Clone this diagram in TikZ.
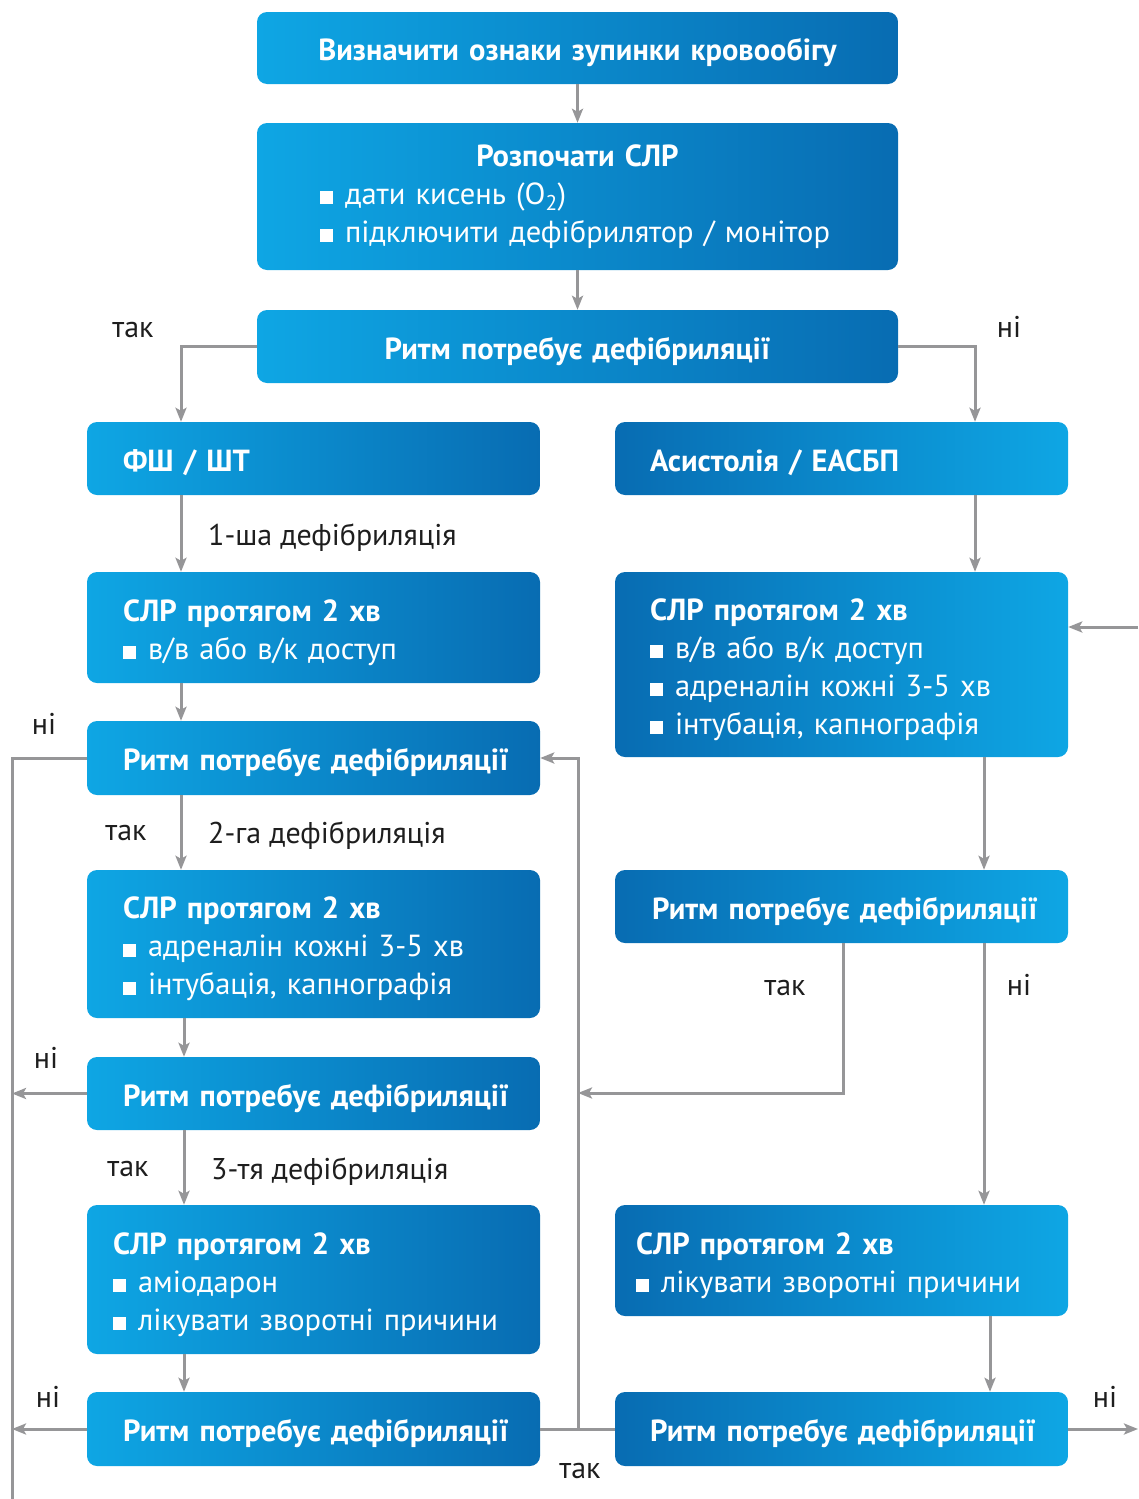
\documentclass[tikz,border=0pt]{standalone}
\usepackage{fontspec}
\setmainfont{PT Sans}
\usetikzlibrary{arrows.meta}
\definecolor{cL}{RGB}{14,166,228}
\definecolor{cD}{RGB}{8,108,178}
\definecolor{cA}{RGB}{150,150,152}
\definecolor{cT}{RGB}{30,30,30}
\newcommand\sq{\rule{13pt}{13pt}\hspace{12pt}}
\newcommand\fst{\rule{0pt}{32pt}}
\newcommand\lst{\rule[-7pt]{0pt}{7pt}}
\newcommand\one[1]{\makebox[\linewidth][l]{\bfseries #1}}
\newcommand\ctr[1]{\makebox[\linewidth][c]{\bfseries #1}}
\tikzset{
  boxbase/.style={rounded corners=10pt, draw=none, text=white, align=left,
    font=\fontsize{30.5}{38}\selectfont, inner ysep=0pt},
  single/.style={text height=32pt, text depth=7pt},
  lbox/.style={boxbase, left color=cL, right color=cD, minimum width=453, text width=381, inner xsep=36},
  rbox/.style={boxbase, left color=cD, right color=cL, minimum width=453, text width=383, inner xsep=35},
  tbox/.style={boxbase, left color=cL, right color=cD, minimum width=641, text width=515, inner xsep=63},
  conn/.style={draw=cA, line width=3pt},
  arr/.style={conn, -{Stealth[length=14pt,width=11pt,inset=3pt]}},
  lbl/.style={text=cT, font=\fontsize{30}{36}\selectfont, inner sep=0pt}
}
\begin{document}
\begin{tikzpicture}[x=1pt,y=-1pt]
\useasboundingbox (0,0) rectangle (1138,1499);
% top column
\node[tbox, single, minimum height=72] (B1) at (577.5,48) {\ctr{Визначити ознаки зупинки кровообігу}};
\node[tbox, minimum height=147] (B2) at (577.5,196.5) {\rule{0pt}{22pt}\ctr{Розпочати СЛР}\\ \mbox{\sq дати кисень (O\textsubscript{2})}\\ \mbox{\sq підключити дефібрилятор / монітор}\lst};
\node[tbox, single, minimum height=73] (B3) at (577.5,346.5) {\ctr{Ритм потребує дефібриляції}};
% left column
\node[lbox, single, minimum height=73] (L0) at (313.5,458.5) {\one{ФШ / ШТ}};
\node[lbox, minimum height=111] (L1) at (313.5,627.5) {\fst\textbf{СЛР протягом 2 хв}\\ \sq в/в або в/к доступ\lst};
\node[lbox, single, minimum height=74] (L2) at (313.5,758) {\one{Ритм потребує дефібриляції}};
\node[lbox, minimum height=148] (L3) at (313.5,944) {\fst\textbf{СЛР протягом 2 хв}\\ \sq адреналін кожні 3-5 хв\\ \sq інтубація, капнографія\lst};
\node[lbox, single, minimum height=73] (L4) at (313.5,1093.5) {\one{Ритм потребує дефібриляції}};
\node[lbox, minimum height=149, inner xsep=26, text width=401] (L5) at (313.5,1279.5) {\fst\textbf{СЛР протягом 2 хв}\\ \sq аміодарон\\ \sq лікувати зворотні причини\lst};
\node[lbox, single, minimum height=74] (L6) at (313.5,1429) {\one{Ритм потребує дефібриляції}};
% right column
\node[rbox, single, minimum height=73] (R0) at (841.5,458.5) {\one{Асистолія / ЕАСБП}};
\node[rbox, minimum height=185] (R1) at (841.5,664.5) {\fst\textbf{СЛР протягом 2 хв}\\ \sq в/в або в/к доступ\\ \sq адреналін кожні 3-5 хв\\ \sq інтубація, капнографія\lst};
\node[rbox, single, minimum height=73, inner xsep=37, text width=379] (R2) at (841.5,906.5) {\one{Ритм потребує дефібриляції}};
\node[rbox, minimum height=111, inner xsep=21, text width=411] (R3) at (841.5,1260.5) {\fst\textbf{СЛР протягом 2 хв}\\ \sq лікувати зворотні причини\lst};
\node[rbox, single, minimum height=74] (R4) at (841.5,1429) {\one{Ритм потребує дефібриляції}};
% coordinates for free ends / corners
\coordinate (jT) at (578,758);
\coordinate (jB) at (578,1429);
\coordinate (lT) at (12,758);
\coordinate (lB) at (12,1499);
\coordinate (lm) at (12,1093.5);
\coordinate (lb) at (12,1429);
\coordinate (rOut) at (1138,1429);
\coordinate (rIn) at (1138,627);
\coordinate (jM) at (578,1093);
% connectors
\draw[arr] (B1.south) -- (B2.north);
\draw[arr] (B2.south) -- (B3.north);
\draw[arr] (B3.west) -| (L0.north -| 181,0);
\draw[arr] (B3.east) -| (R0.north -| 975,0);
\draw[arr] (L0.south -| 181,0) -- (L1.north -| 181,0);
\draw[arr] (L1.south -| 181,0) -- (L2.north -| 181,0);
\draw[arr] (L2.south -| 181,0) -- (L3.north -| 181,0);
\draw[arr] (L3.south -| 184,0) -- (L4.north -| 184,0);
\draw[arr] (L4.south -| 184,0) -- (L5.north -| 184,0);
\draw[arr] (L5.south -| 184,0) -- (L6.north -| 184,0);
\draw[arr] (R0.south -| 975,0) -- (R1.north -| 975,0);
\draw[arr] (R1.south -| 984,0) -- (R2.north -| 984,0);
\draw[arr] (R2.south -| 984,0) -- (R3.north -| 984,0);
\draw[arr] (R3.south -| 990,0) -- (R4.north -| 990,0);
\draw[arr] (R2.south -| 843,0) |- (jM);
\draw[conn] (L6.east) -- (R4.west);
\draw[arr] (jB) -- (jT) -- (L2.east);
\draw[conn] (L2.west) -- (lT) -- (lB);
\draw[arr] (L4.west) -- (lm);
\draw[arr] (L6.west) -- (lb);
\draw[arr] (R4.east) -- (rOut);
\draw[arr] (rIn) -- (R1.east |- rIn);
% labels
\node[lbl, anchor=base] (t1) at (133,337) {так};
\node[lbl, anchor=base] (n1) at (1009,337) {ні};
\node[lbl, anchor=base west] (d1) at (208,545) {1-ша дефібриляція};
\node[lbl, anchor=base] (n2) at (44,734) {ні};
\node[lbl, anchor=base] (t2) at (126,840) {так};
\node[lbl, anchor=base west] (d2) at (208,843) {2-га дефібриляція};
\node[lbl, anchor=base] (t3) at (785,995) {так};
\node[lbl, anchor=base] (n3) at (1019,995) {ні};
\node[lbl, anchor=base] (n4) at (46,1068) {ні};
\node[lbl, anchor=base] (t4) at (128,1176) {так};
\node[lbl, anchor=base west] (d3) at (211,1179) {3-тя дефібриляція};
\node[lbl, anchor=base] (n5) at (48,1407) {ні};
\node[lbl, anchor=base] (n6) at (1105,1407) {ні};
\node[lbl, anchor=base] (t5) at (580,1478) {так};
\end{tikzpicture}
\end{document}
